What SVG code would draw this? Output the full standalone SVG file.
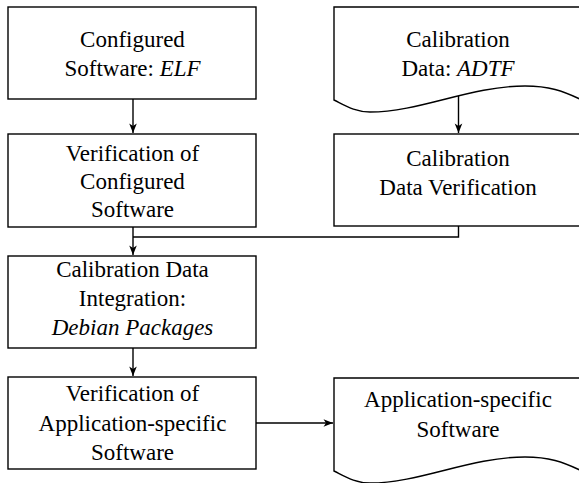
<svg xmlns="http://www.w3.org/2000/svg" width="579" height="483" viewBox="0 0 579 483">
<defs>
<style>
.box{fill:#fff;stroke:#000;stroke-width:1.4}
.t{font-family:'Liberation Serif','Times New Roman',serif;font-size:23px;fill:#000;text-anchor:middle}
.i{font-style:italic}
.c{fill:none;stroke:#000;stroke-width:1.4}
</style>
<marker id="ah" viewBox="-10 -5 11 10" refX="0" refY="0" markerWidth="11" markerHeight="10" markerUnits="userSpaceOnUse" orient="auto">
<path d="M0,0 L-9.5,-3.8 L-7,0 L-9.5,3.8 Z" fill="#000"/>
</marker>
</defs>
<rect width="579" height="483" fill="#fff"/>
<g id="connectors">
<line class="c" x1="133" y1="99" x2="133" y2="133" marker-end="url(#ah)"/>
<line class="c" x1="133" y1="227" x2="133" y2="255" marker-end="url(#ah)"/>
<polyline class="c" points="458.5,226 458.5,237 133,237"/>
<line class="c" x1="458.5" y1="96" x2="458.5" y2="133" marker-end="url(#ah)"/>
<line class="c" x1="133" y1="348" x2="133" y2="376" marker-end="url(#ah)"/>
<line class="c" x1="256" y1="423" x2="333" y2="423" marker-end="url(#ah)"/>
</g>
<g id="configured-software">
<rect class="box" x="8" y="7" width="248" height="92"/>
<text class="t" x="132.5" y="47">Configured</text>
<text class="t" x="132.5" y="76">Software: <tspan class="i">ELF</tspan></text>
</g>
<g id="verification-configured">
<rect class="box" x="8" y="134" width="248" height="93"/>
<text class="t" x="132.5" y="161">Verification of</text>
<text class="t" x="132.5" y="189">Configured</text>
<text class="t" x="132.5" y="217">Software</text>
</g>
<g id="calibration-data">
<path class="box" d="M334,100 V7 H586 V102 C562,90 548,86 525,86 C470,86 420,112 370,112 C355,112 346,106 334,100 Z"/>
<text class="t" x="458" y="47">Calibration</text>
<text class="t" x="458" y="76">Data: <tspan class="i">ADTF</tspan></text>
</g>
<g id="calibration-verification">
<rect class="box" x="334" y="134" width="248" height="92"/>
<text class="t" x="458" y="166">Calibration</text>
<text class="t" x="458" y="195">Data Verification</text>
</g>
<g id="calibration-integration">
<rect class="box" x="8" y="256" width="248" height="92"/>
<text class="t" x="132.5" y="277">Calibration Data</text>
<text class="t" x="132.5" y="306">Integration:</text>
<text class="t i" x="132.5" y="335">Debian Packages</text>
</g>
<g id="verification-application">
<rect class="box" x="8" y="377" width="248" height="92"/>
<text class="t" x="132.5" y="401">Verification of</text>
<text class="t" x="132.5" y="431">Application-specific</text>
<text class="t" x="132.5" y="460">Software</text>
</g>
<g id="application-software">
<path class="box" d="M334,471 V378 H586 V473 C562,461 548,457 525,457 C470,457 420,483 370,483 C355,483 346,477 334,471 Z"/>
<text class="t" x="458" y="407">Application-specific</text>
<text class="t" x="458" y="437">Software</text>
</g>
</svg>
